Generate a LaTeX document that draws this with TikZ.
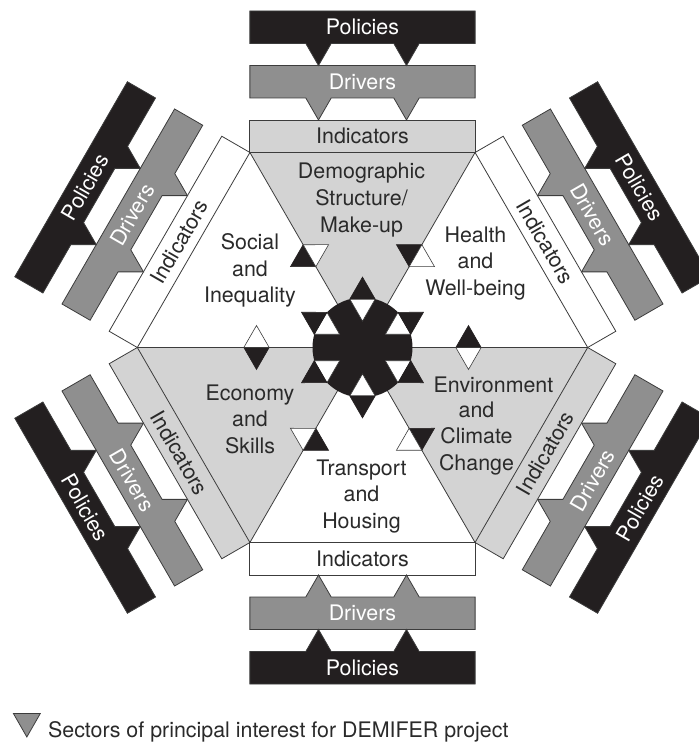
\documentclass[tikz,border=0pt]{standalone}
\usepackage{fontspec}
\setmainfont{TeX Gyre Heros}
\usepackage{tikz}
\definecolor{dmblack}{HTML}{231F20}
\definecolor{dmdriver}{HTML}{8F8F8F}
\definecolor{dmlight}{HTML}{D3D3D3}
\definecolor{dmline}{HTML}{3C3C3C}
\definecolor{dmtext}{HTML}{2A2A2A}
\usetikzlibrary{calc}
\tikzset{
	barline/.style={draw=dmline, line width=0.8bp, line join=miter},
	spoke/.style={draw=dmline, line width=0.8bp},
	bartext/.style={font=\fontsize{21.4bp}{26.7bp}\selectfont, inner sep=0pt},
	lbl/.style={font=\fontsize{21.4bp}{26.7bp}\selectfont, align=center, text=dmtext, inner sep=0pt},
	darktri/.style={fill=dmblack, draw=dmblack, line width=0.6bp, line join=miter},
	whitetri/.style={fill=white, draw=dmline, line width=0.6bp, line join=miter}
}

\begin{document}
\begin{tikzpicture}[x=1bp, y=1bp]
	\useasboundingbox (-362.5,-394.5) rectangle (336.5,347.5);
	\coordinate (hub) at (0,0);
	\foreach \ang/\fc/\ta [count=\k] in {90/dmlight/0, 150/white/60, 210/dmlight/-60, 270/white/0, 330/dmlight/60, 30/white/-60}{
		\begin{scope}[rotate=\ang-90]
			\fill[\fc] (hub) -- (-112.6,195) -- (112.6,195) -- cycle;
			\draw[barline, fill=\fc] (-112.6,195) rectangle (112.6,227.5);
			\draw[barline, fill=dmdriver] (-112.6,249.5) -- (-56.7,249.5) -- (-44,227.5) -- (-31.3,249.5) -- (31.3,249.5) -- (44,227.5) -- (56.7,249.5) -- (112.6,249.5) -- (112.6,282) -- (-112.6,282) -- cycle;
			\draw[barline, fill=dmblack] (-112.6,304) -- (-56.7,304) -- (-44,282) -- (-31.3,304) -- (31.3,304) -- (44,282) -- (56.7,304) -- (112.6,304) -- (112.6,336.5) -- (-112.6,336.5) -- cycle;
			\node[bartext, text=dmtext, rotate=\ta] (ind\k) at (0,211.25) {Indicators};
			\node[bartext, text=white, rotate=\ta] (drv\k) at (0,265.75) {Drivers};
			\node[bartext, text=white, rotate=\ta] (pol\k) at (0,320.25) {Policies};
		\end{scope}
	}
	\foreach \t in {0,60,...,300}{
		\draw[spoke] (hub) -- (\t:225.17);
		\draw[darktri] (\t:93.3) -- (\t:118.7) -- ($(\t:106)+(\t+90:22)$) -- cycle;
		\draw[whitetri] (\t:93.3) -- (\t:118.7) -- ($(\t:106)+(\t-90:22)$) -- cycle;
	}
	\fill[dmblack] (hub) circle (50);
	\foreach \t in {30,90,...,330}{
		\draw[whitetri] ($(\t:48.4)+(\t+90:12.7)$) -- ($(\t:48.4)+(\t-90:12.7)$) -- (\t:26.4) -- cycle;
		\draw[darktri] ($(\t:48.4)+(\t+90:12.7)$) -- ($(\t:48.4)+(\t-90:12.7)$) -- (\t:70.4) -- cycle;
	}
	\node[lbl] (demo) at (-1,147.5) {Demographic\\Structure/\\Make-up};
	\node[lbl] (social) at (-112.5,77) {Social\\and\\Inequality};
	\node[lbl] (health) at (113,84) {Health\\and\\Well-being};
	\node[lbl] (econ) at (-112.5,-71.8) {Economy\\and\\Skills};
	\node[lbl] (env) at (131,-37.5) {Environment};
	\node[lbl] (climate) at (114,-90.8) {and\\Climate\\Change};
	\node[lbl] (trans) at (-1,-149) {Transport\\and\\Housing};
	\draw[barline, fill=dmdriver] (-349.1,-366) -- (-322.2,-366) -- (-335.65,-389.5) -- cycle;
	\node[bartext, text=dmtext, anchor=base west] (legend) at (-314.6,-389.5) {Sectors of principal interest for DEMIFER project};
\end{tikzpicture}
\end{document}
